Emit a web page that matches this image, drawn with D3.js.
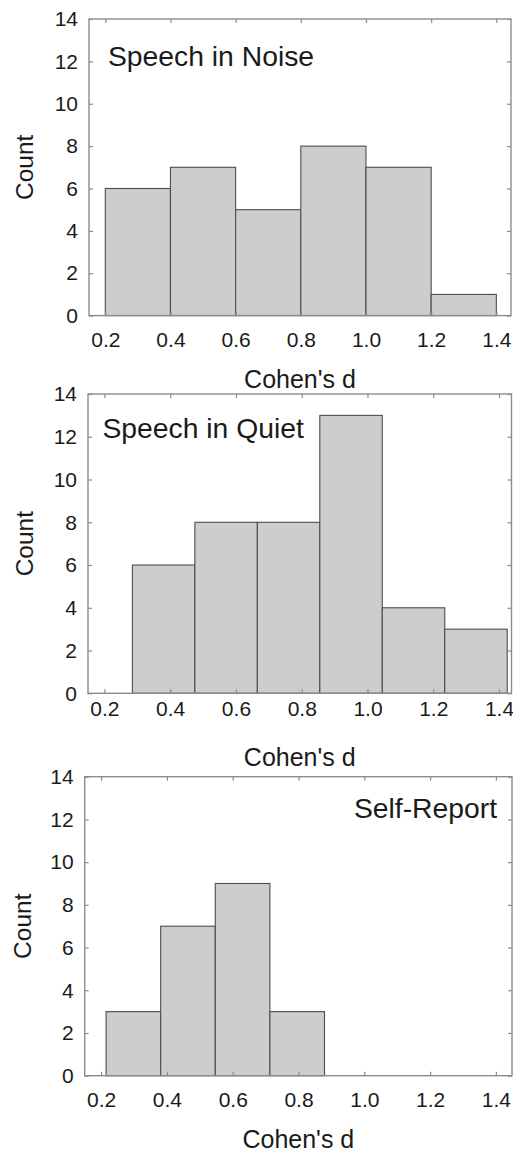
<!DOCTYPE html>
<html>
<head>
<meta charset="utf-8">
<script src="https://cdn.jsdelivr.net/npm/d3@7/dist/d3.min.js"></script>
<style>
  body { margin: 0; background: #fff; }
  text { font-family: "Liberation Sans", Arial, sans-serif; fill: #1a1a1a; }
</style>
</head>
<body>
<svg id="chart" width="513" height="1157"></svg>
<script>
// three histograms of effect sizes, stacked

var xTicks = [0.2, 0.4, 0.6, 0.8, 1.0, 1.2, 1.4];
var yTicks = [0, 2, 4, 6, 8, 10, 12, 14];

var noiseEdges = [0.2, 0.4, 0.6, 0.8, 1.0, 1.2, 1.4];
var noiseCounts = [6, 7, 5, 8, 7, 1];

var quietEdges = [0.285, 0.475, 0.665, 0.855, 1.045, 1.235, 1.425];
var quietCounts = [6, 8, 8, 13, 4, 3];

var selfEdges = [0.215, 0.381, 0.547, 0.713, 0.879];
var selfCounts = [3, 7, 9, 3];

var titles = ["Speech in Noise", "Speech in Quiet", "Self-Report"];

// layout of each panel (frame in px, x domain)
var panels = [
  {edges: noiseEdges, counts: noiseCounts, title: titles[0],
   left: 89, right: 511, top: 19, bottom: 315.6, xdom: [0.15, 1.445],
   labPad: 16, yLabX: 33, titleX: 108, titleY: 66, anchor: "start"},
  {edges: quietEdges, counts: quietCounts, title: titles[1],
   left: 88, right: 511.5, top: 394, bottom: 693.3, xdom: [0.15, 1.438],
   labPad: 8, yLabX: 33, titleX: 102.5, titleY: 438, anchor: "start"},
  {edges: selfEdges, counts: selfCounts, title: titles[2],
   left: 84.7, right: 512, top: 776.7, bottom: 1075.7, xdom: [0.15, 1.449],
   labPad: 16, yLabX: 30.5, titleX: 497, titleY: 818, anchor: "end"}
];

var svg = d3.select("#chart");

panels.forEach(function(p) {
  var g = svg.append("g");
  var x = d3.scaleLinear().domain(p.xdom).range([p.left, p.right]);
  var y = d3.scaleLinear().domain([0, 14]).range([p.bottom, p.top]);

  var bins = p.counts.map(function(c, i) {
    return {x0: p.edges[i], x1: p.edges[i + 1], n: c};
  });

  g.selectAll("rect.bar").data(bins).enter().append("rect")
    .attr("class", "bar")
    .attr("x", function(d) { return x(d.x0); })
    .attr("width", function(d) { return x(d.x1) - x(d.x0); })
    .attr("y", function(d) { return y(d.n); })
    .attr("height", function(d) { return y(0) - y(d.n); })
    .attr("fill", "#cdcdcd")
    .attr("stroke", "#4d4d4d")
    .attr("stroke-width", 1.1);

  // frame
  g.append("rect")
    .attr("x", p.left).attr("y", p.top)
    .attr("width", p.right - p.left).attr("height", p.bottom - p.top)
    .attr("fill", "none").attr("stroke", "#8c8c8c").attr("stroke-width", 1.4);

  // inward ticks on all four sides
  var tk = 4;
  g.append("g").attr("transform", "translate(0," + p.bottom + ")")
    .call(d3.axisBottom(x).tickValues(xTicks).tickSize(-tk).tickFormat(""));
  g.append("g").attr("transform", "translate(0," + p.top + ")")
    .call(d3.axisTop(x).tickValues(xTicks).tickSize(-tk).tickFormat(""));
  g.append("g").attr("transform", "translate(" + p.left + ",0)")
    .call(d3.axisLeft(y).tickValues(yTicks).tickSize(-tk).tickFormat(""));
  g.append("g").attr("transform", "translate(" + p.right + ",0)")
    .call(d3.axisRight(y).tickValues(yTicks).tickSize(-tk).tickFormat(""));
  g.selectAll(".domain").remove();
  g.selectAll(".tick line").attr("stroke", "#8c8c8c").attr("stroke-width", 1.2);

  // tick labels
  var xl = g.append("g").attr("transform", "translate(0," + p.bottom + ")")
    .call(d3.axisBottom(x).tickValues(xTicks).tickSize(0).tickPadding(p.labPad)
      .tickFormat(d3.format(".1f")));
  var yl = g.append("g").attr("transform", "translate(" + p.left + ",0)")
    .call(d3.axisLeft(y).tickValues(yTicks).tickSize(0).tickPadding(11));
  [xl, yl].forEach(function(a) {
    a.select(".domain").remove();
    a.selectAll("text").style("font-size", "21px").attr("fill", "#1a1a1a");
  });

  // axis titles
  g.append("text")
    .attr("x", (p.left + p.right) / 2).attr("y", p.bottom + 72.5)
    .attr("text-anchor", "middle").style("font-size", "25px")
    .text("Cohen's d");
  g.append("text")
    .attr("transform", "translate(" + p.yLabX + "," + ((p.top + p.bottom) / 2) + ") rotate(-90)")
    .attr("text-anchor", "middle").style("font-size", "24.5px")
    .text("Count");

  g.append("text")
    .attr("x", p.titleX).attr("y", p.titleY)
    .attr("text-anchor", p.anchor).style("font-size", "28.3px")
    .text(p.title);
});
</script>
</body>
</html>
